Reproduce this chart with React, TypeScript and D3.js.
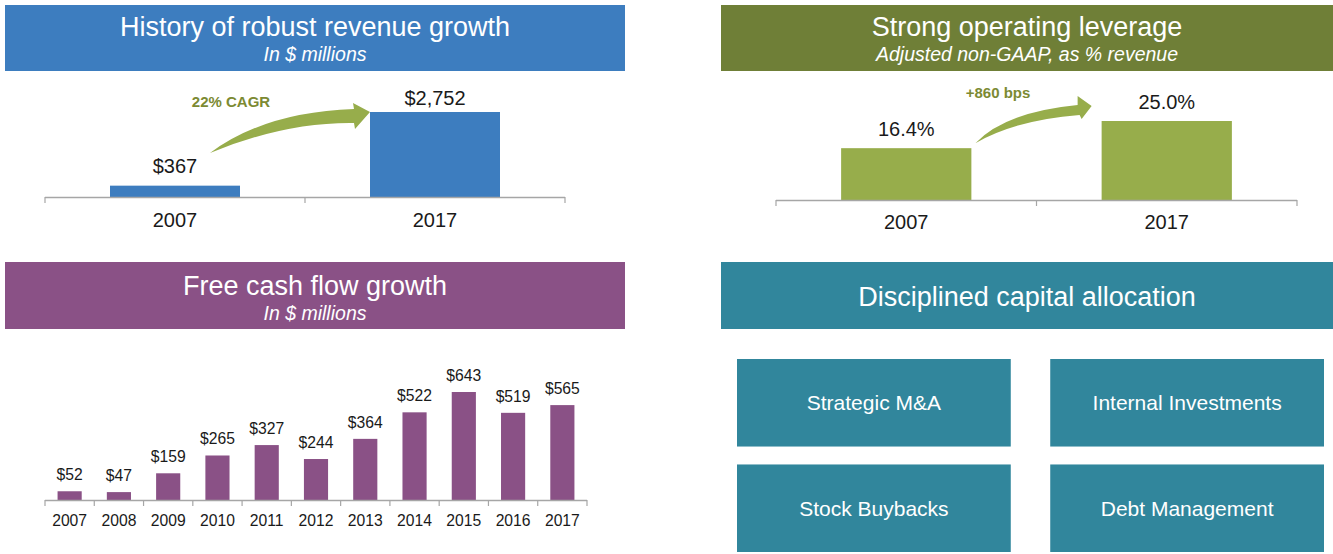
import React from "react";
import * as d3 from "d3";

const revenueYears = ["2007", "2017"];
const revenueValues = [367, 2752];
const revenueLabels = ["$367", "$2,752"];

const marginYears = ["2007", "2017"];
const marginValues = [16.4, 25.0];
const marginLabels = ["16.4%", "25.0%"];

const fcfYears = ["2007", "2008", "2009", "2010", "2011", "2012", "2013", "2014", "2015", "2016", "2017"];
const fcfValues = [52, 47, 159, 265, 327, 244, 364, 522, 643, 519, 565];

const capitalItems = ["Strategic M&A", "Internal Investments", "Stock Buybacks", "Debt Management"];

const FONT = "'Liberation Sans', Arial, Helvetica, sans-serif";
const BLUE = "#3d7dbf";
const OLIVE = "#6f7f37";
const GREEN = "#97ad4b";
const PURPLE = "#8a5186";
const TEAL = "#31869c";
const AXIS = "#a6a6a6";
const TXT = "#1a1a1a";
const ANNOT = "#7c8a33";

function Header({ x, y, w, h, fill, title, sub, titleY, subY }: any) {
  const cx = x + w / 2;
  return (
    <g>
      <rect x={x} y={y} width={w} height={h} fill={fill} />
      <text x={cx} y={titleY} textAnchor="middle" fill="#fff" fontSize={27} fontFamily={FONT}>{title}</text>
      {sub && (
        <text x={cx} y={subY} textAnchor="middle" fill="#fff" fontSize={19.5} fontStyle="italic" fontFamily={FONT}>{sub}</text>
      )}
    </g>
  );
}

function Axis({ x0, x1, y, ticks }: any) {
  return (
    <g>
      <line x1={x0} x2={x1} y1={y + 0.5} y2={y + 0.5} stroke={AXIS} strokeWidth={1.5} />
      {ticks.map((t: number, i: number) => (
        <line key={i} x1={t} x2={t} y1={y} y2={y + 6} stroke={AXIS} strokeWidth={1.2} />
      ))}
    </g>
  );
}

export default function App() {
  // Revenue panel
  const rx = d3.scaleBand<string>().domain(revenueYears).range([45, 565]);
  const ry = d3.scaleLinear().domain([0, 2752]).range([197, 112]);
  const rbw = rx.bandwidth();
  const rTicks = [45, ...revenueYears.map((d) => (rx(d) as number) + rbw)];
  const rGap = [13, 7];

  // Margin panel
  const mx = d3.scaleBand<string>().domain(marginYears).range([776, 1297]);
  const my = d3.scaleLinear().domain([0, 25]).range([200, 121]);
  const mbw = mx.bandwidth();
  const mTicks = [776, ...marginYears.map((d) => (mx(d) as number) + mbw)];

  // FCF panel
  const fx = d3.scaleBand<string>().domain(fcfYears).range([45, 587]);
  const fy = d3.scaleLinear().domain([0, 643]).range([500, 392]);
  const fbw = fx.bandwidth();
  const fTicks = [45, ...fcfYears.map((d) => (fx(d) as number) + fbw)];

  // revenue arrow
  const r1x = (rx(revenueYears[0]) as number) + rbw * 0.25;
  const r2x = (rx(revenueYears[1]) as number) + rbw * 0.25;
  const r2top = ry(revenueValues[1]);
  const rTail: [number, number] = [r1x + 100, r2top + 41];
  const rTip: [number, number] = [r2x, r2top];
  const rp = d3.path();
  rp.moveTo(rTail[0], rTail[1]);
  rp.quadraticCurveTo(rTip[0] - 105, rTip[1], rTip[0] - 16, rTip[1] - 3);
  rp.lineTo(rTip[0] - 17, rTip[1] - 9);
  rp.lineTo(rTip[0], rTip[1]);
  rp.lineTo(rTip[0] - 15, rTip[1] + 17);
  rp.lineTo(rTip[0] - 16, rTip[1] + 11);
  rp.quadraticCurveTo(rTip[0] - 85, rTip[1] + 10, rTail[0], rTail[1]);
  rp.closePath();

  // margin arrow
  const m1x = (mx(marginYears[0]) as number) + mbw * 0.25;
  const m1right = m1x + mbw * 0.5;
  const m1top = my(marginValues[0]);
  const m2x = (mx(marginYears[1]) as number) + mbw * 0.25;
  const m2top = my(marginValues[1]);
  const mTail: [number, number] = [m1right + 4, m1top - 5];
  const mTip: [number, number] = [m2x - 10, m2top - 15];
  const mp = d3.path();
  mp.moveTo(mTail[0], mTail[1]);
  mp.quadraticCurveTo(mTail[0] + 30, mTip[1] + 6, mTip[0] - 14, mTip[1] - 1);
  mp.lineTo(mTip[0] - 14, mTip[1] - 10);
  mp.lineTo(mTip[0], mTip[1]);
  mp.lineTo(mTip[0] - 10, mTip[1] + 13);
  mp.lineTo(mTip[0] - 12, mTip[1] + 9);
  mp.quadraticCurveTo(mTail[0] + 40, mTip[1] + 14, mTail[0], mTail[1]);
  mp.closePath();

  // capital boxes
  const bx = d3.scaleBand<number>().domain([0, 1]).range([737, 1324]).paddingInner(0.126);
  const by = d3.scaleBand<number>().domain([0, 1]).range([359, 552]).paddingInner(0.17);

  return (
    <svg width={1333} height={554} style={{ position: "absolute", left: 0, top: 0 }} fontFamily={FONT}>
      <rect width={1333} height={554} fill="#fff" />

      {/* Revenue */}
      <Header x={5} y={5} w={620} h={66} fill={BLUE} title="History of robust revenue growth" sub="In $ millions" titleY={36} subY={61} />
      {revenueYears.map((d, i) => {
        const x = (rx(d) as number) + rbw * 0.25;
        const w = rbw * 0.5;
        return (
          <g key={d}>
            <rect x={x} y={ry(revenueValues[i])} width={w} height={ry(0) - ry(revenueValues[i])} fill={BLUE} />
            <text x={x + w / 2} y={ry(revenueValues[i]) - rGap[i]} textAnchor="middle" fontSize={20} fill={TXT}>{revenueLabels[i]}</text>
            <text x={x + w / 2} y={227} textAnchor="middle" fontSize={20} fill={TXT}>{d}</text>
          </g>
        );
      })}
      <Axis x0={45} x1={565} y={197} ticks={rTicks} />
      <path d={rp.toString()} fill={GREEN} />
      <text x={231} y={107} textAnchor="middle" fontSize={15} fontWeight="bold" fill={ANNOT}>22% CAGR</text>

      {/* Margin */}
      <Header x={721} y={5} w={612} h={66} fill={OLIVE} title="Strong operating leverage" sub="Adjusted non-GAAP, as % revenue" titleY={36} subY={61} />
      {marginYears.map((d, i) => {
        const x = (mx(d) as number) + mbw * 0.25;
        const w = mbw * 0.5;
        return (
          <g key={d}>
            <rect x={x} y={my(marginValues[i])} width={w} height={my(0) - my(marginValues[i])} fill={GREEN} />
            <text x={x + w / 2} y={my(marginValues[i]) - 12} textAnchor="middle" fontSize={20} fill={TXT}>{marginLabels[i]}</text>
            <text x={x + w / 2} y={229} textAnchor="middle" fontSize={20} fill={TXT}>{d}</text>
          </g>
        );
      })}
      <Axis x0={776} x1={1297} y={200} ticks={mTicks} />
      <path d={mp.toString()} fill={GREEN} />
      <text x={998} y={98} textAnchor="middle" fontSize={15} fontWeight="bold" fill={ANNOT}>+860 bps</text>

      {/* FCF */}
      <Header x={5} y={262} w={620} h={67} fill={PURPLE} title="Free cash flow growth" sub="In $ millions" titleY={295} subY={320} />
      {fcfYears.map((d, i) => {
        const w = fbw * 0.49;
        const x = (fx(d) as number) + (fbw - w) / 2;
        return (
          <g key={d}>
            <rect x={x} y={fy(fcfValues[i])} width={w} height={fy(0) - fy(fcfValues[i])} fill={PURPLE} />
            <text x={x + w / 2} y={fy(fcfValues[i]) - 11} textAnchor="middle" fontSize={15.7} fill={TXT}>{"$" + fcfValues[i]}</text>
            <text x={x + w / 2} y={526} textAnchor="middle" fontSize={15.7} fill={TXT}>{d}</text>
          </g>
        );
      })}
      <Axis x0={45} x1={587} y={500} ticks={fTicks} />

      {/* Capital allocation */}
      <Header x={721} y={262} w={612} h={67} fill={TEAL} title="Disciplined capital allocation" titleY={306} />
      {capitalItems.map((label, i) => {
        const col = i % 2;
        const row = Math.floor(i / 2);
        const x = bx(col) as number;
        const y = by(row) as number;
        return (
          <g key={label}>
            <rect x={x} y={y} width={bx.bandwidth()} height={by.bandwidth()} fill={TEAL} />
            <text x={x + bx.bandwidth() / 2} y={y + by.bandwidth() / 2 + 7.5} textAnchor="middle" fontSize={21} fill="#fff">{label}</text>
          </g>
        );
      })}
    </svg>
  );
}
